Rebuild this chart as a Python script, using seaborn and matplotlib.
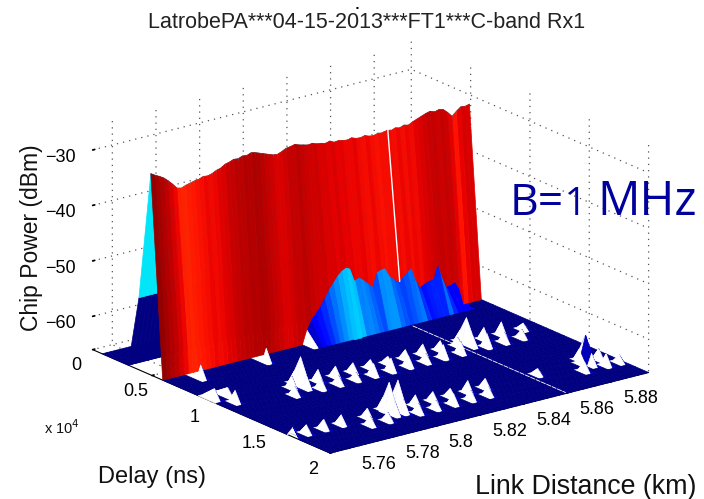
import numpy as np
import matplotlib
matplotlib.use("Agg")
import matplotlib.pyplot as plt
import seaborn as sns

# chip power (dBm), one value per 2 m distance column
floor_db = -66.0
rise_db = -53.0
delay = [0.08, 0.18, 0.30, 0.39, 0.49, 0.59, 0.69, 0.74, 0.79, 0.89, 0.99, 1.04, 1.09, 1.14,
         1.19, 1.24, 1.29, 1.39, 1.49, 1.59, 1.64, 1.69, 1.74, 1.79, 1.84, 1.89, 2.0]
peak_db = [-29.7, -30.2, -30.6, -31.1, -31.8, -32.6, -33.5, -33.7, -33.4, -33.2, -33.0,
           -32.9, -32.6, -32.7, -32.5, -32.1, -31.9, -31.4, -31.2, -30.9, -31.0, -30.7,
           -30.8, -30.5, -30.7, -31.0, -31.3, -31.6, -31.9, -32.0, -31.7, -31.3, -31.2,
           -31.0, -31.3, -31.5, -31.7, -31.6, -31.9, -32.0, -32.2, -32.0, -32.4, -32.3,
           -32.5, -32.6, -32.4, -32.7, -32.8, -32.6, -32.9, -33.0, -32.8, -32.9, -32.7,
           -32.9, -32.6, -32.8, -32.5, -32.7, -32.3, -32.0, -31.7, -31.4, -31.2, -31.5,
           -31.3, -31.5, -32.2, -33.1, -32.4, -31.8, -31.9, -31.7]
bump_db = [-66.0] * 33 + [
    -63.5, -61.8, -60.9, -59.9, -58.6, -57.3, -56.2, -55.1, -54.4, -54.0, -54.4, -56.7,
    -56.4, -57.0, -57.8, -58.6, -56.3, -56.0, -55.9, -57.5, -58.3, -59.0, -58.4, -57.6,
    -57.0, -59.5, -60.9, -60.5, -60.2, -60.1, -57.4, -60.0, -62.0, -61.9, -61.6, -63.0,
] + [-66.0] * 5

# isolated echoes: distance (km), delay row, height over the floor (dB)
spike_km = [5.764, 5.794,
            5.754, 5.757, 5.760, 5.779, 5.783, 5.787, 5.787, 5.787, 5.791, 5.795, 5.799,
            5.803, 5.807, 5.811, 5.815, 5.819, 5.823, 5.827, 5.831, 5.835, 5.839, 5.843,
            5.847, 5.851, 5.855, 5.859, 5.863, 5.863, 5.863, 5.867, 5.871, 5.875, 5.879,
            5.883, 5.889,
            5.751, 5.757, 5.765, 5.773, 5.781, 5.785, 5.789, 5.795, 5.795, 5.795, 5.799,
            5.799, 5.799, 5.803, 5.807, 5.811, 5.815, 5.819, 5.823, 5.827, 5.831, 5.835,
            5.839, 5.863, 5.880, 5.884, 5.886, 5.886, 5.886, 5.889, 5.892, 5.895]
spike_delay = [0.69, 0.69,
               0.99, 1.09, 0.99, 1.19, 1.09, 1.09, 1.04, 1.14, 1.19, 1.09, 1.19,
               1.09, 1.19, 1.09, 1.19, 1.09, 1.19, 1.09, 1.19, 1.09, 1.19, 1.09,
               1.19, 1.09, 1.19, 1.09, 1.09, 1.04, 1.14, 1.19, 1.09, 1.19, 1.09,
               1.19, 1.09,
               1.69, 1.69, 1.69, 1.69, 1.79, 1.69, 1.79, 1.69, 1.64, 1.74, 1.69,
               1.64, 1.74, 1.79, 1.69, 1.79, 1.69, 1.79, 1.69, 1.79, 1.69, 1.79,
               1.69, 1.69, 1.79, 1.69, 1.69, 1.64, 1.74, 1.79, 1.69, 1.79]
spike_height = [2.5, 2.5,
                2.0, 2.2, 1.6, 1.6, 2.2, 5.3, 2.4, 2.4, 1.8, 2.2, 1.6,
                2.0, 1.4, 1.8, 2.2, 1.6, 2.4, 1.4, 2.0, 1.8, 1.6, 2.0,
                2.4, 1.8, 2.2, 1.6, 4.8, 2.2, 2.2, 2.4, 2.2, 1.8, 2.4,
                1.6, 1.2,
                1.8, 1.6, 1.8, 1.8, 1.6, 1.8, 1.6, 5.5, 2.4, 2.4, 5.5,
                2.4, 2.4, 1.8, 2.0, 1.6, 1.8, 2.0, 1.6, 1.8, 2.2, 1.6,
                1.8, 1.2, 1.8, 2.0, 5.0, 2.2, 2.2, 2.2, 2.0, 1.4]
gap_km = 5.8596

x_ticks = [5.76, 5.78, 5.8, 5.82, 5.84, 5.86, 5.88]
x_tick_labels = ["5.76", "5.78", "5.8", "5.82", "5.84", "5.86", "5.88"]
y_ticks = [0, 0.5, 1, 1.5, 2]
y_tick_labels = ["0", "0.5", "1", "1.5", "2"]
z_ticks = [-60, -50, -40, -30]

sns.set_theme(style="white")
plt.rcParams["font.family"] = ["Liberation Sans", "DejaVu Sans"]

dist = 5.751 + 0.002 * np.arange(len(peak_db))
delay = np.array(delay)
Z = np.full((len(delay), len(dist)), floor_db)
Z[3, :] = rise_db
Z[4, :] = peak_db
Z[5, :] = bump_db
for km, d, h in zip(spike_km, spike_delay, spike_height):
    Z[np.argmin(np.abs(delay - d)), np.argmin(np.abs(dist - km))] = floor_db + h
X, Y = np.meshgrid(dist, delay)

# flat shading: every facet takes the colour of its first corner
jet = matplotlib.colormaps["jet"]
norm = plt.Normalize(floor_db, -29.0)
colors = jet(norm(Z[:-1, :-1]))
for i in range(Z.shape[0] - 1):
    if delay[i] < 0.59:
        continue
    for j in range(Z.shape[1] - 1):
        if Z[i, j] <= floor_db and Z[i:i + 2, j:j + 2].max() > floor_db:
            colors[i, j] = (1, 1, 1, 1)

fig = plt.figure(figsize=(7.04, 4.99), dpi=100)
side = 640
ax = fig.add_axes([(362 - side / 2) / 704, 1 - (256 + side / 2) / 499, side / 704, side / 499],
                  projection="3d", proj_type="ortho", computed_zorder=False)
ax.patch.set_alpha(0)
ax.view_init(elev=19.4, azim=232.7)
ax.set_box_aspect((402, 393, 242), zoom=0.925)
ax.plot_surface(X, Y, Z, facecolors=colors, shade=False, rstride=1, cstride=1,
                linewidth=0.5, antialiased=True, zorder=1)

gap_col = np.argmin(np.abs(dist - gap_km))
ax.plot([gap_km, gap_km], [delay[4], delay[5]], [Z[4, gap_col], Z[5, gap_col]],
        color="white", lw=1.0, zorder=2)
ax.plot([gap_km, gap_km], [0.70, 1.99], [floor_db, floor_db], color="white", lw=0.6,
        ls=(0, (6, 1)), zorder=2)

ax.set_xlim(5.751, 5.897)
ax.set_ylim(2, 0)
ax.set_zlim(floor_db, -25)
ax.set_xticks(x_ticks, x_tick_labels, ha="left", va="center")
ax.set_yticks(y_ticks, y_tick_labels, va="center")
ax.set_zticks(z_ticks)
ax.tick_params(labelsize=13, colors="black", pad=6)
ax.tick_params(axis="x", pad=4)
ax.tick_params(axis="y", pad=4.5)
for axis in (ax.xaxis, ax.yaxis, ax.zaxis):
    axis.set_pane_color((1, 1, 1, 0))
    axis.pane.set_edgecolor((1, 1, 1, 0))
    axis._axinfo["grid"].update(color="#555555", linestyle=(0, (1, 4)), linewidth=0.9)
    axis._axinfo["tick"]["inward_factor"] = 0.0
    axis._axinfo["tick"]["outward_factor"] = 0.08
    axis.line.set_color("black")
    axis.line.set_linewidth(0.8)
ax.zaxis.line.set_color((0, 0, 0, 0))
ax.grid(True)

fig.text(367 / 704, 1 - 22 / 499, "LatrobePA***04-15-2013***FT1***C-band Rx1", ha="center",
         va="center", fontsize=15.5, color="#222222")
fig.text(357 / 704, 1 - 8 / 499, "\u25aa", ha="center", va="center", fontsize=6, color="black")
fig.text(32 / 704, 1 - 238 / 499, "Chip Power (dBm)", rotation=90, ha="center", va="center",
         fontsize=16.5, color="#111111")
fig.text(98 / 704, 1 - 477 / 499, "Delay (ns)", ha="left", va="center", fontsize=17,
         color="#111111")
fig.text(475 / 704, 1 - 487 / 499, "Link Distance (km)", ha="left", va="center", fontsize=19.3,
         color="#111111")
fig.text(44 / 704, 1 - 428 / 499, r"x 10$^{4}$", ha="left", va="center", fontsize=10.5,
         color="#111111")
blue = "#00009c"
fig.text(510 / 704, 1 - 215 / 499, "B=", ha="left", va="baseline", fontsize=32, color=blue,
         family="Open Sans")
fig.text(565 / 704, 1 - 215 / 499, "1", ha="left", va="baseline", fontsize=27, color=blue,
         family="Open Sans")
fig.text(597 / 704, 1 - 215 / 499, "MHz", ha="left", va="baseline", fontsize=34, color=blue,
         family="Open Sans")

fig.savefig("out.png", dpi=100)
